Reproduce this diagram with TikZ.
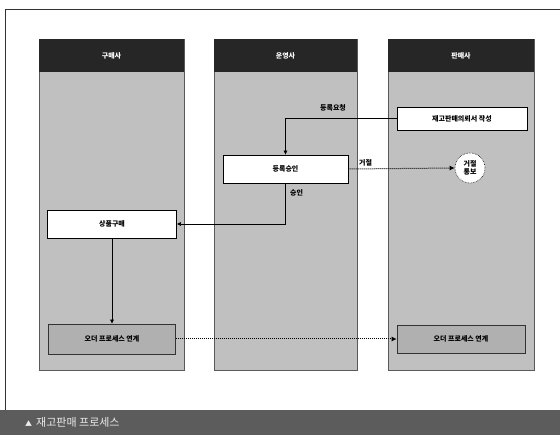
\documentclass[tikz,border=0pt]{standalone}
\usepackage{fontspec}
\newfontfamily\kr{Noto Sans CJK KR}
\usetikzlibrary{arrows.meta}
\definecolor{lanegray}{RGB}{192,192,192}
\definecolor{hdrdark}{RGB}{38,38,38}
\definecolor{bannergray}{RGB}{92,92,92}
\definecolor{boxgray}{RGB}{176,176,176}
\begin{document}
\begin{tikzpicture}[x=1pt,y=-1pt,
  lane/.style={fill=lanegray, draw=gray!70!black, line width=0.4pt},
  hdr/.style={fill=hdrdark},
  hdrtext/.style={text=white, font=\kr\fontsize{7}{8}\selectfont\bfseries},
  task/.style={draw=black, fill=white, line width=0.6pt, inner sep=0pt,
    font=\kr\fontsize{7}{8}\selectfont\bfseries},
  linkbox/.style={task, fill=boxgray, draw=gray!40!black},
  note/.style={circle, draw=black, densely dotted, line width=0.6pt, fill=white,
    minimum size=30pt, inner sep=0pt, align=center,
    font=\kr\fontsize{7}{8}\selectfont\bfseries},
  lbl/.style={font=\kr\fontsize{7}{8}\selectfont\bfseries, inner sep=1pt},
  arr/.style={draw=black, line width=0.5pt, -{Latex[length=4pt,width=4pt]}},
  dotarr/.style={draw=black, line width=1pt, densely dotted, -{Latex[length=5pt,width=5pt]}}
]
\useasboundingbox (0,0) rectangle (560,435);
\fill[white] (0,0) rectangle (560,435);
% outer frame
\draw[gray!40!black, line width=0.6pt] (5,411) -- (5,9) -- (560,9);
% lanes
\fill[lane] (39,39) rectangle (184,370);
\fill[lane] (214,39) rectangle (357,370);
\fill[lane] (388,39) rectangle (534,370);
\fill[hdr] (39,39) rectangle (184,72);
\fill[hdr] (214,39) rectangle (357,72);
\fill[hdr] (388,39) rectangle (534,72);
\node[hdrtext] (h1) at (111.5,56) {구매사};
\node[hdrtext] (h2) at (285.5,56) {운영사};
\node[hdrtext] (h3) at (461,56) {판매사};
% tasks
\node[task, minimum width=130pt, minimum height=23pt] (req) at (462,118.5) {재고판매의뢰서 작성};
\node[task, minimum width=125pt, minimum height=28pt] (appr) at (285.5,169) {등록승인};
\node[note] (rej) at (470,168) {거절\\통보};
\node[task, minimum width=129pt, minimum height=28pt] (buy) at (112,224) {상품구매};
\node[linkbox, minimum width=127pt, minimum height=30pt] (ordL) at (112,339) {오더 프로세스 연계};
\node[linkbox, minimum width=128pt, minimum height=28pt] (ordR) at (461,339) {오더 프로세스 연계};
% connectors
\draw[arr] (req.west) -| (appr.north);
\node[lbl, anchor=south] (lreq) at (333,112) {등록요청};
\draw[dotarr] (appr.east) -- (rej.west);
\node[lbl, anchor=south west] (lrej) at (358,167) {거절};
\draw[arr] (appr.south) |- (buy.east);
\node[lbl, anchor=west] (lok) at (289,193) {승인};
\draw[arr] (buy.south) -- (ordL.north);
\draw[dotarr] (ordL.east) -- (ordR.west);
% banner
\fill[bannergray] (0,410) rectangle (560,435);
\node[anchor=west, text=white!92!black, font=\kr\fontsize{11}{12}\selectfont, inner sep=0pt] (cap) at (25,422.5) {{\fontsize{7}{8}\selectfont ▲}\hspace{4pt}재고판매 프로세스};
\end{tikzpicture}
\end{document}
